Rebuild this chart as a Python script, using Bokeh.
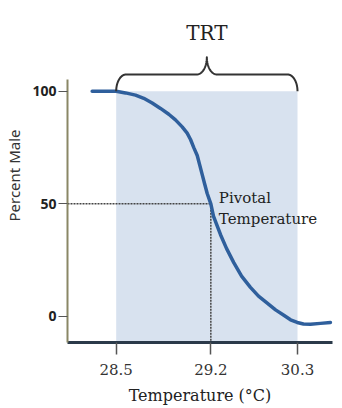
import numpy as np
from bokeh.plotting import figure
from bokeh.models import Range1d, FixedTicker, BoxAnnotation, Label
from bokeh.embed import file_html
from bokeh.resources import INLINE

# ---- data (schematic x positions; labelled with temperatures) ----
tick_positions = [0.0, 1.044, 2.0]
tick_labels = ["28.5", "29.2", "30.3"]
y_ticks = [0, 50, 100]

curve_x = [-0.265, 0.0, 0.103, 0.213, 0.304, 0.397, 0.489, 0.580, 0.654, 0.728,
           0.783, 0.820, 0.856, 0.894, 0.921, 0.949, 0.976, 1.004, 1.044,
           1.073, 1.112, 1.151, 1.218, 1.297, 1.383, 1.481, 1.570, 1.666,
           1.758, 1.849, 1.923, 1.997, 2.066, 2.143, 2.253, 2.364]
curve_y = [100, 100, 99.3, 98.3, 96.9, 94.8, 92.4, 89.8, 87.3, 84.2,
           81.4, 78.6, 75.0, 71.5, 67.3, 63.0, 58.8, 54.6, 50,
           44.6, 40.4, 36.3, 30.1, 23.9, 17.9, 12.9, 9.0, 5.9,
           2.9, 0.5, -1.5, -2.7, -3.4, -3.5, -3.1, -2.7]

pivot_x = tick_positions[1]
pivot_y = 50
trt_start = tick_positions[0]
trt_end = tick_positions[2]

SERIF = "DejaVu Serif"
SANS = "Noto Sans"

p = figure(width=342, height=408, output_backend="svg", toolbar_location=None,
           x_range=Range1d(-0.537, 2.386), y_range=Range1d(-11.6, 136.8),
           min_border_left=67, min_border_right=10, min_border_top=8,
           min_border_bottom=66)
p.outline_line_color = None
p.xgrid.visible = False
p.ygrid.visible = False
p.background_fill_color = "white"
p.border_fill_color = "white"

# shaded TRT region
p.add_layout(BoxAnnotation(left=trt_start, right=trt_end, top=100,
                           fill_color="#d8e2ef", fill_alpha=1.0,
                           line_color=None, level="underlay"))

# dotted guides to pivotal temperature
p.line([p.x_range.start, pivot_x], [pivot_y, pivot_y], line_color="#444444",
       line_width=1.5, line_dash="2 1")
p.line([pivot_x, pivot_x], [pivot_y, p.y_range.start], line_color="#444444",
       line_width=1.5, line_dash="2 1")

# curve
p.line(curve_x, curve_y, line_color="#2f5f9c", line_width=3.5,
       line_cap="round", line_join="round")

# brace over TRT
yb, yh, yt = 100.0, 107.5, 115.1
rx, rx2 = 0.11, 0.11
xc = (trt_start + trt_end) / 2
t1 = np.linspace(np.pi, np.pi / 2, 20)
a1x = (trt_start + rx) + rx * np.cos(t1)
a1y = yb + (yh - yb) * np.sin(t1)
t2 = np.linspace(-np.pi / 2, 0, 20)
a2x = (xc - rx2) + rx2 * np.cos(t2)
a2y = yt + (yt - yh) * np.sin(t2)
left_x = np.concatenate([a1x, a2x])
left_y = np.concatenate([a1y, a2y])
right_x = 2 * xc - left_x[::-1]
right_y = left_y[::-1]
bx = np.concatenate([left_x, right_x])
by = np.concatenate([left_y, right_y])
p.line(bx, by, line_color="#333333", line_width=2, line_join="round")

p.add_layout(Label(x=xc, y=yt, y_offset=24, text="TRT", text_font=SERIF,
                   text_font_size="20px", text_color="#222222",
                   text_align="center", text_baseline="middle"))

p.add_layout(Label(x=pivot_x, y=pivot_y, x_offset=8, y_offset=6, text="Pivotal",
                   text_font=SERIF, text_font_size="15px", text_color="#222222",
                   text_baseline="alphabetic"))
p.add_layout(Label(x=pivot_x, y=pivot_y, x_offset=8, y_offset=-15, text="Temperature",
                   text_font=SERIF, text_font_size="15px", text_color="#222222",
                   text_baseline="alphabetic"))

# x axis
xa = p.xaxis[0]
xa.ticker = FixedTicker(ticks=tick_positions)
xa.major_label_overrides = {t: l for t, l in zip(tick_positions, tick_labels)}
xa.minor_tick_line_color = None
xa.major_tick_in = 0
xa.major_tick_out = 12
xa.major_tick_line_color = "#555555"
xa.major_tick_line_width = 1.5
xa.axis_line_color = "#2b3a4a"
xa.axis_line_width = 3
xa.major_label_text_font = SERIF
xa.major_label_text_font_size = "15px"
xa.major_label_text_color = "#333333"
xa.major_label_standoff = 9
xa.axis_label = "Temperature (°C)"
xa.axis_label_text_font = SERIF
xa.axis_label_text_font_size = "16px"
xa.axis_label_text_font_style = "normal"
xa.axis_label_text_color = "#222222"
xa.axis_label_standoff = 8

# y axis
ya = p.yaxis[0]
ya.ticker = FixedTicker(ticks=y_ticks)
ya.bounds = (p.y_range.start, 105.3)
ya.minor_tick_line_color = None
ya.major_tick_in = 0
ya.major_tick_out = 9
ya.major_tick_line_color = "#555555"
ya.axis_line_color = "#8a8766"
ya.axis_line_width = 2
ya.major_label_text_font = SANS
ya.major_label_text_font_style = "bold"
ya.major_label_text_font_size = "14px"
ya.major_label_text_color = "#222222"
ya.major_label_standoff = 2
ya.axis_label = "Percent Male"
ya.axis_label_text_font = SANS
ya.axis_label_text_font_size = "15px"
ya.axis_label_text_font_style = "normal"
ya.axis_label_text_color = "#333333"
ya.axis_label_standoff = 5

open("out.html", "w").write(file_html(p, INLINE))
